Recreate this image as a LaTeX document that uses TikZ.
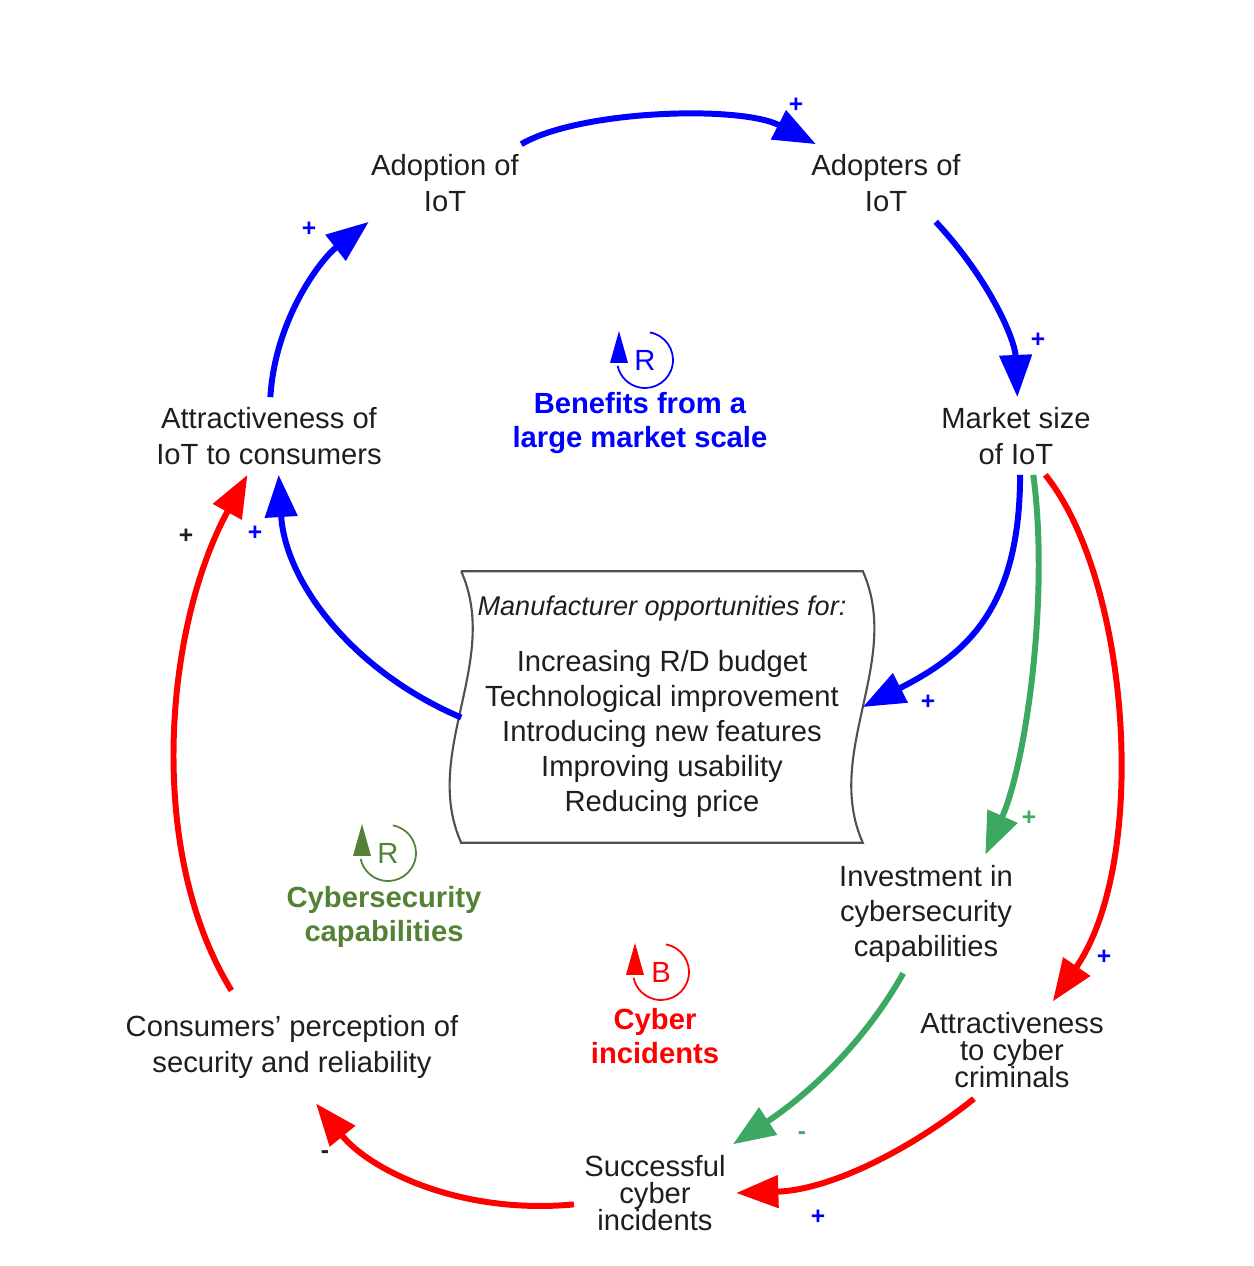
\documentclass[tikz,border=0pt]{standalone}
\usepackage{fontspec}
\setmainfont{Liberation Sans}
\usepackage{xcolor}
\usepackage{tikz}
\usetikzlibrary{arrows.meta, calc}
\definecolor{loopgreen}{RGB}{84,130,53}
\definecolor{linkgreen}{RGB}{60,168,98}
\definecolor{ink}{RGB}{30,30,30}
\definecolor{boxline}{RGB}{80,80,80}
\newcommand{\LoopMark}[4]{
	\def\lpin{#1}
	\def\lcolor{#2}
	\draw[\lcolor, line width=0.5pt] ($(\lpin)+(80:28)$) arc (80:-168:28);
	\fill[\lcolor] ($(\lpin)+(-35,-3)$) -- ++(18,0) -- ($(\lpin)+(-26,29)$) -- cycle;
	\node[\lcolor, font=\fontsize{8.3}{10}\selectfont] (#3) at (\lpin) {#4};
}

\begin{document}
\begin{tikzpicture}[x=0.01cm, y=0.01cm,
		var/.style={text=ink, align=center, font=\fontsize{8.3}{10}\selectfont, inner sep=2.8pt},
		tight/.style={font=\fontsize{8.3}{7.8}\selectfont},
		link/.style={line width=1.7pt, -{Triangle[length=12pt, width=9pt]}},
		sign/.style={font=\fontsize{7}{8}\selectfont\bfseries, inner sep=0pt},
		looptitle/.style={align=center, font=\fontsize{8.3}{9.7}\selectfont\bfseries}
	]
	\useasboundingbox (0,0) rectangle (1254,1266);

	% variables
	\node[var] (adopt) at (445,1083) {Adoption of\\IoT};
	\node[var] (adopters) at (886,1083) {Adopters of\\IoT};
	\node[var] (market) at (1016,830) {Market size\\of IoT};
	\node[var] (attr) at (269,830) {Attractiveness of\\IoT to consumers};
	\node[var] (invest) at (926,352) {Investment in\\cybersecurity\\capabilities};
	\node[var, tight] (crimattr) at (1012,216) {Attractiveness\\to cyber\\criminals};
	\node[var, tight] (success) at (655,73) {Successful\\cyber\\incidents};
	\node[var, inner ysep=7pt] (percept) at (292,219) {Consumers' perception of\\security and reliability};

	\node[var, inner xsep=0pt, minimum width=4cm, minimum height=2.7cm] (box) at (662,559) {{\fontsize{7.7}{10}\selectfont\itshape Manufacturer opportunities for:}\\[5.7pt]
		Increasing R/D budget\\Technological improvement\\Introducing new features\\Improving usability\\Reducing price};
	\draw[boxline, line width=0.6pt] (box.north west) -- (box.north east) .. controls +(40,-90) and +(-40,90) .. (box.south east)
		-- (box.south west) .. controls +(-40,90) and +(40,-90) .. (box.north west);

	% loops
	\LoopMark{645,906}{blue}{loopA}{R}
	\LoopMark{388,413}{loopgreen}{loopB}{R}
	\LoopMark{661,294}{red}{loopC}{B}
	\node[looptitle, blue] (benefits) at (640,843) {Benefits from a\\large market scale};
	\node[looptitle, loopgreen] (cybcap) at (384,349) {Cybersecurity\\capabilities};
	\node[looptitle, red] (incid) at (655,230) {Cyber\\incidents};

	% links
	\draw[link, blue] (adopt.27) .. controls (580,1156) and (740,1161) .. (adopters.151);
	\draw[link, blue] (adopters.-38) .. controls (990,986) and (1015,926) .. (market.88);
	\draw[link, blue] (market.-84) .. controls (1020,656) and (965,611) .. (box.east);
	\draw[link, blue] (box.183) .. controls (350,596) and (285,686) .. (attr.-76);
	\draw[link, blue] (attr.88) .. controls (275,946) and (320,1006) .. (adopt.207);
	\draw[link, linkgreen] (market.-66) .. controls (1050,666) and (1025,500) .. (invest.45);
	\draw[link, linkgreen] (invest.-111) .. controls (860,216) and (800,166) .. (success.32);
	\draw[link, red] (market.-53) .. controls (1130,686) and (1150,406) .. (crimattr.50);
	\draw[link, red] (crimattr.232) .. controls (910,116) and (830,76) .. (success.east);
	\draw[link, red] (success.188) .. controls (460,51) and (370,96) .. (percept.-67);
	\draw[link, red] (percept.137) .. controls (145,416) and (165,640) .. (attr.241);

	% polarities
	\node[sign, blue] (s1) at (796,1161) {+};
	\node[sign, blue] (s2) at (1038,926) {+};
	\node[sign, blue] (s3) at (928,564) {+};
	\node[sign, blue] (s4) at (255,733) {+};
	\node[sign, blue] (s5) at (309,1037) {+};
	\node[sign, ink] (s6) at (186,730) {+};
	\node[sign, linkgreen] (s7) at (1029,448) {+};
	\node[sign, linkgreen] (s8) at (802,130) {-};
	\node[sign, blue] (s9) at (1104,309) {+};
	\node[sign, blue] (s10) at (818,49) {+};
	\node[sign, ink] (s11) at (325,111) {-};

\end{tikzpicture}
\end{document}
